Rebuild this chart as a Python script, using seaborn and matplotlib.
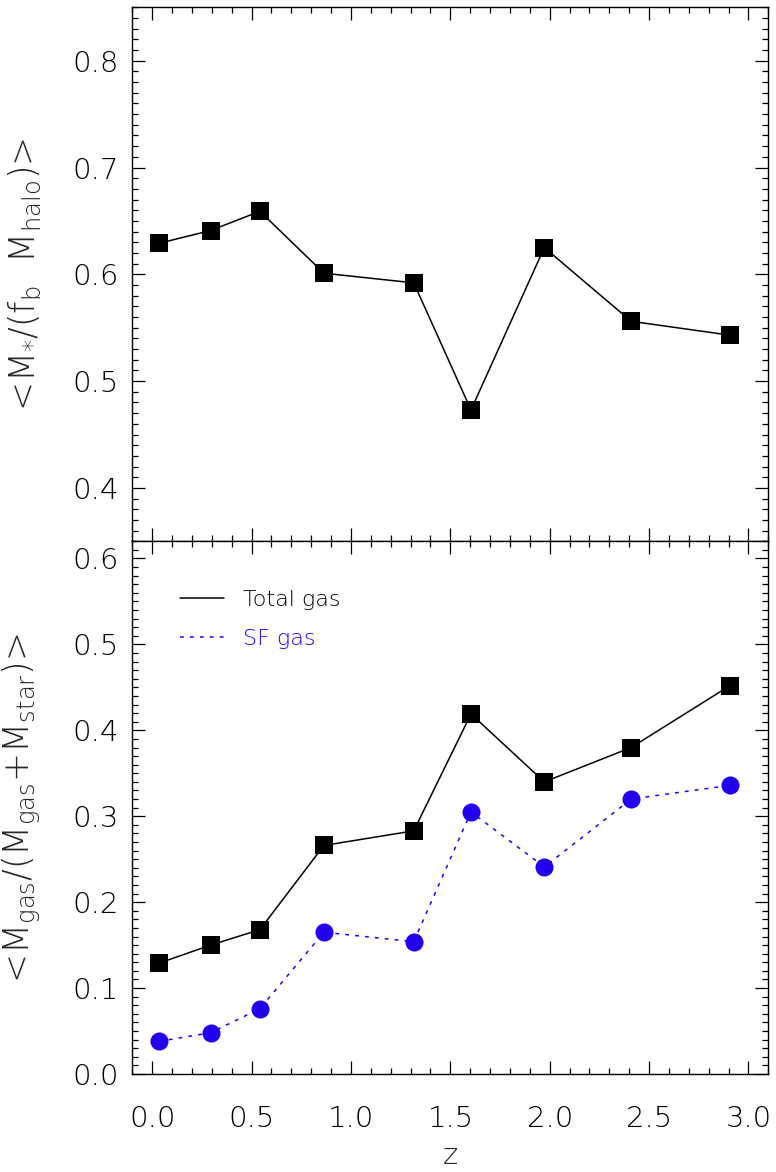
import numpy as np
import pandas as pd
import matplotlib
matplotlib.use("Agg")
import matplotlib.pyplot as plt
from matplotlib.lines import Line2D
from matplotlib.ticker import MultipleLocator, FormatStrFormatter
import seaborn as sns

# Redshift of each snapshot
redshift = [0.034, 0.294, 0.542, 0.864, 1.316, 1.604, 1.973, 2.410, 2.907]

# Stellar mass relative to baryonic halo mass
stellar_frac = [0.629, 0.641, 0.659, 0.601, 0.592, 0.473, 0.625, 0.556, 0.543]

# Gas fractions: all gas and star-forming gas
total_gas_frac = [0.129, 0.150, 0.168, 0.266, 0.283, 0.419, 0.340, 0.380, 0.452]
sf_gas_frac = [0.038, 0.048, 0.076, 0.165, 0.154, 0.305, 0.241, 0.320, 0.336]

legend_labels = ["Total gas", "SF gas"]

BLUE = "#2200EE"
FONT = ["DejaVu Sans"]

sns.set_theme(style="ticks")
plt.rcParams["font.family"] = FONT
plt.rcParams["font.weight"] = "light"
plt.rcParams["axes.labelweight"] = "light"
plt.rcParams["mathtext.fontset"] = "custom"
plt.rcParams["mathtext.rm"] = "DejaVu Sans:light"
plt.rcParams["mathtext.it"] = "DejaVu Sans:light"
plt.rcParams["mathtext.default"] = "rm"
plt.rcParams["axes.linewidth"] = 1.0

df_top = pd.DataFrame({"z": redshift, "frac": stellar_frac})
df_gas = pd.DataFrame({"z": redshift, "total": total_gas_frac, "sf": sf_gas_frac})

fig = plt.figure(figsize=(7.76, 11.72), dpi=100)
ax_top = fig.add_axes([0.1705, 0.53814, 0.8196, 0.45563])
ax_bot = fig.add_axes([0.1705, 0.08362, 0.8196, 0.45452], sharex=ax_top)

sns.lineplot(data=df_top, x="z", y="frac", ax=ax_top, color="black",
             linewidth=1.1, marker="s", markersize=12.5, markeredgewidth=0)

sns.lineplot(data=df_gas, x="z", y="total", ax=ax_bot, color="black",
             linewidth=1.1, marker="s", markersize=12.5, markeredgewidth=0)
sns.lineplot(data=df_gas, x="z", y="sf", ax=ax_bot, color=BLUE,
             linewidth=1.1, linestyle=(0, (2.5, 4)), marker="o",
             markersize=13, markeredgewidth=0)

ax_top.set_ylim(0.35, 0.85)
ax_bot.set_ylim(0.0, 0.62)
ax_top.set_xlim(-0.1, 3.1)

for ax in (ax_top, ax_bot):
    ax.xaxis.set_major_locator(MultipleLocator(0.5))
    ax.xaxis.set_minor_locator(MultipleLocator(0.1))
    ax.yaxis.set_major_locator(MultipleLocator(0.1))
    ax.yaxis.set_minor_locator(MultipleLocator(0.01))
    ax.yaxis.set_major_formatter(FormatStrFormatter("%.1f"))
    ax.xaxis.set_major_formatter(FormatStrFormatter("%.1f"))
    ax.tick_params(which="both", direction="in", top=True, right=True,
                   width=0.9, colors="black")
    ax.tick_params(which="major", length=9.5, labelsize=21, pad=10)
    ax.tick_params(which="minor", length=4.5)
    ax.tick_params(axis="x", which="major", pad=22)
    for s in ax.spines.values():
        s.set_color("black")
    ax.set_xlabel("")

ax_top.tick_params(axis="x", labelbottom=False)

ax_top.set_ylabel(r"<M$_{*}$/(f$_{b}$  M$_{halo}$)>", fontsize=25,
                  fontweight="light")
ax_bot.set_ylabel(r"<M$_{gas}$/(M$_{gas}$+M$_{star}$)>", fontsize=25,
                  fontweight="light")
ax_top.yaxis.set_label_coords(-0.14, 0.5)
ax_bot.yaxis.set_label_coords(-0.14, 0.5)
ax_bot.set_xlabel("z", fontsize=21, labelpad=7, fontweight="light")

handles = [Line2D([], [], color="black", linewidth=1.1),
           Line2D([], [], color=BLUE, linewidth=1.1, linestyle=(0, (2.5, 4)))]
leg = ax_bot.legend(handles, legend_labels, loc="upper left",
                    bbox_to_anchor=(0.058, 0.93), frameon=False,
                    fontsize=16, handlelength=1.95, handletextpad=0.85,
                    labelspacing=0.85, borderpad=0)
for txt, col in zip(leg.get_texts(), ["black", BLUE]):
    txt.set_color(col)

fig.savefig("out.png", dpi=100)
